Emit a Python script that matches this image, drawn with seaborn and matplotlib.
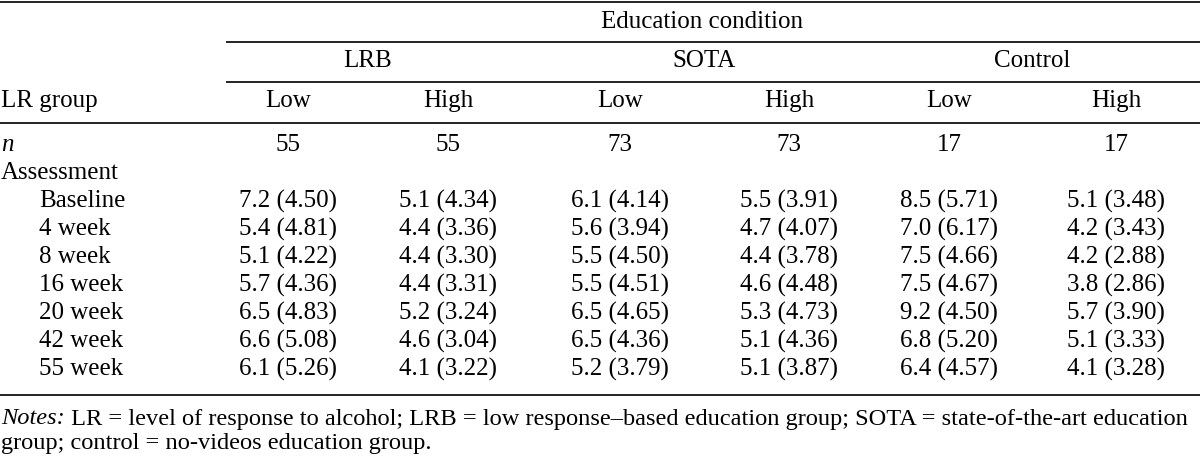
"""
Mean (SD) scores by education condition and LR group, drawn as a table figure.
Output: out.png
"""

import matplotlib.pyplot as plt
import seaborn as sns

OUTPUT_PNG = "out.png"

CONDITIONS = ["LRB", "SOTA", "Control"]
LR_GROUPS = ["Low", "High"]
N_PER_COLUMN = [55, 55, 73, 73, 17, 17]
ASSESSMENTS = ["Baseline", "4 week", "8 week", "16 week", "20 week", "42 week", "55 week"]

# one list per column: LRB low, LRB high, SOTA low, SOTA high, Control low, Control high
LRB_LOW_MEAN = [7.2, 5.4, 5.1, 5.7, 6.5, 6.6, 6.1]
LRB_LOW_SD = [4.50, 4.81, 4.22, 4.36, 4.83, 5.08, 5.26]
LRB_HIGH_MEAN = [5.1, 4.4, 4.4, 4.4, 5.2, 4.6, 4.1]
LRB_HIGH_SD = [4.34, 3.36, 3.30, 3.31, 3.24, 3.04, 3.22]
SOTA_LOW_MEAN = [6.1, 5.6, 5.5, 5.5, 6.5, 6.5, 5.2]
SOTA_LOW_SD = [4.14, 3.94, 4.50, 4.51, 4.65, 4.36, 3.79]
SOTA_HIGH_MEAN = [5.5, 4.7, 4.4, 4.6, 5.3, 5.1, 5.1]
SOTA_HIGH_SD = [3.91, 4.07, 3.78, 4.48, 4.73, 4.36, 3.87]
CONTROL_LOW_MEAN = [8.5, 7.0, 7.5, 7.5, 9.2, 6.8, 6.4]
CONTROL_LOW_SD = [5.71, 6.17, 4.66, 4.67, 4.50, 5.20, 4.57]
CONTROL_HIGH_MEAN = [5.1, 4.2, 4.2, 3.8, 5.7, 5.1, 4.1]
CONTROL_HIGH_SD = [3.48, 3.43, 2.88, 2.86, 3.90, 3.33, 3.28]

NOTES_ITALIC = "Notes:"
NOTES_LINE1 = " LR = level of response to alcohol; LRB = low response\u2013based education group; SOTA = state-of-the-art education"
NOTES_LINE2 = "group; control = no-videos education group."

# layout in pixel units of the 1200x457 canvas
COL_X = [288, 448, 620, 789, 949, 1116]
SPAN_X0 = 226
ROW_Y0 = 145
ROW_STEP = 28
FS = 18
FS_NOTES = 17.6
LINE_W = 1.4


def main() -> None:
    sns.set_theme(style="white")
    plt.rcParams["font.family"] = ["Liberation Serif", "DejaVu Serif"]

    means = [LRB_LOW_MEAN, LRB_HIGH_MEAN, SOTA_LOW_MEAN, SOTA_HIGH_MEAN, CONTROL_LOW_MEAN, CONTROL_HIGH_MEAN]
    sds = [LRB_LOW_SD, LRB_HIGH_SD, SOTA_LOW_SD, SOTA_HIGH_SD, CONTROL_LOW_SD, CONTROL_HIGH_SD]

    fig = plt.figure(figsize=(12, 4.57), dpi=100)
    ax = fig.add_axes([0, 0, 1, 1])
    ax.set_xlim(0, 1200)
    ax.set_ylim(457, 0)
    ax.axis("off")

    kw = dict(fontsize=FS, va="center", color="black")

    # rules
    for y, x0 in [(2, 0), (42, SPAN_X0), (82, SPAN_X0), (123, 0), (395, 0)]:
        ax.plot([x0, 1200], [y, y], color="#222222", lw=LINE_W, solid_capstyle="butt")

    # header
    ax.text((COL_X[0] + COL_X[-1]) / 2, 22, "Education condition", ha="center", **kw)
    for i, cond in enumerate(CONDITIONS):
        cx = (COL_X[2 * i] + COL_X[2 * i + 1]) / 2
        ax.text(cx, 61, cond, ha="center", **kw)
    ax.text(1, 101, "LR group", ha="left", **kw)
    for j, x in enumerate(COL_X):
        ax.text(x, 101, LR_GROUPS[j % 2], ha="center", **kw)

    # n row
    ax.text(1, ROW_Y0, "n", ha="left", style="italic", **kw)
    for x, n in zip(COL_X, N_PER_COLUMN):
        ax.text(x, ROW_Y0, str(n), ha="center", **kw)

    ax.text(1, ROW_Y0 + ROW_STEP, "Assessment", ha="left", **kw)
    for r, label in enumerate(ASSESSMENTS):
        y = ROW_Y0 + ROW_STEP * (r + 2)
        ax.text(39, y, label, ha="left", **kw)
        for x, m, s in zip(COL_X, means, sds):
            ax.text(x, y, f"{m[r]:.1f} ({s[r]:.2f})", ha="center", **kw)

    # notes
    nkw = dict(fontsize=FS_NOTES, va="center", color="black")
    t = ax.text(1, 419, NOTES_ITALIC, ha="left", style="italic", **nkw)
    fig.canvas.draw()
    bb = t.get_window_extent().transformed(ax.transData.inverted())
    ax.text(bb.x1, 419, NOTES_LINE1, ha="left", **nkw)
    ax.text(1, 443, NOTES_LINE2, ha="left", **nkw)

    fig.savefig(OUTPUT_PNG, dpi=100)
    plt.close(fig)


if __name__ == "__main__":
    main()
